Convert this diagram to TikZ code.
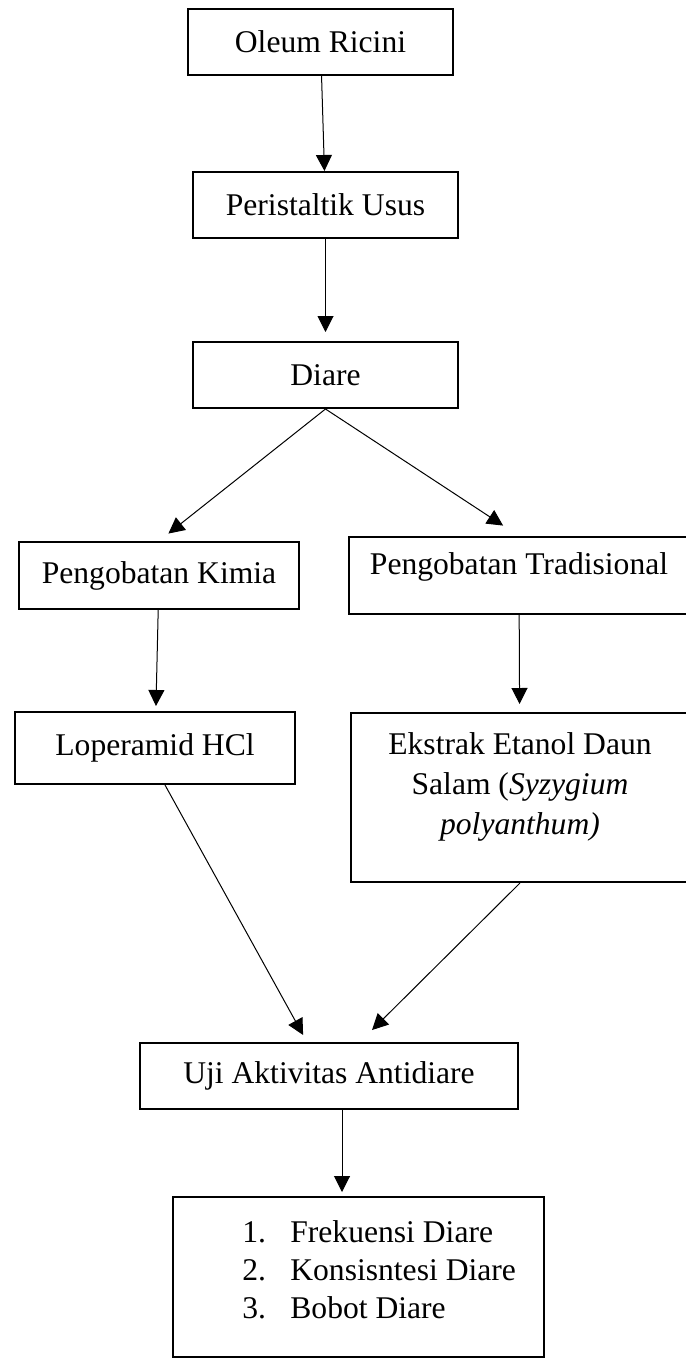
\documentclass[tikz,border=0pt]{standalone}
\usepackage{fontspec}
\setmainfont{Liberation Serif}
\usetikzlibrary{arrows.meta,calc}

\begin{document}
\begin{tikzpicture}[x=0.5pt, y=-0.5pt,
	box/.style={draw, line width=1pt, inner sep=0pt, align=center},
	txt/.style={inner sep=0pt},
	arr/.style={-{Triangle[width=8pt,length=8pt]}, line width=0.5pt},
	font=\fontsize{15.8}{20}\selectfont]
	\useasboundingbox (0,0) rectangle (685,1359);

	\node[box, minimum width=132.5pt, minimum height=33pt] (oleum) at (320.5,42) {Oleum Ricini};
	\node[box, minimum width=132.5pt, minimum height=33pt] (peri) at (325.5,205) {Peristaltik Usus};
	\node[box, minimum width=132.5pt, minimum height=33pt] (diare) at (325.5,375) {Diare};

	\node[box, minimum width=140pt, minimum height=33.5pt] (kimia) at (159,575.5) {Pengobatan Kimia};
	\node[box, minimum width=170pt, minimum height=38.5pt] (trad) at (519,575.5) {};
	\node[txt] (tradtext) at (519,567) {Pengobatan Tradisional};

	\node[box, minimum width=140pt, minimum height=36pt] (lop) at (155,748) {Loperamid HCl};
	\node[box, minimum width=169pt, minimum height=84.5pt] (ek) at (520,797.5) {};
	\node[txt, align=center] (ektext) at (520,787) {Ekstrak Etanol Daun\\Salam (\textit{Syzygium}\\\textit{polyanthum)}};

	\node[box, minimum width=189pt, minimum height=33pt] (uji) at (329,1076) {Uji Aktivitas Antidiare};
	\node[box, minimum width=185.5pt, minimum height=80pt] (hasil) at (358.5,1277) {};
	\node[txt, align=left, anchor=west, font=\fontsize{15.8}{19}\selectfont] (hasiltext) at (242,1270)
		{\makebox[24pt][l]{1.}Frekuensi Diare\\\makebox[24pt][l]{2.}Konsisntesi Diare\\\makebox[24pt][l]{3.}Bobot Diare};

	\draw[arr] (oleum) -- (peri);
	\draw[arr, shorten >=4.5pt] (peri) -- (diare);
	\draw[arr, shorten >=6pt] (diare.south) -- (kimia.north);
	\draw[arr, shorten >=9.5pt] (diare.south) -- (trad.north);
	\draw[arr, shorten >=2.5pt] (kimia) -- (lop);
	\draw[arr, shorten >=4pt] (trad) -- (ek);
	\draw[arr, shorten >=4pt] ($(lop.south)+(10,0)$) -- ($(uji.north)+(-22,0)$);
	\draw[arr, shorten >=8.5pt] (ek.south) -- ($(uji.north)+(31,0)$);
	\draw[arr, shorten >=2pt] ($(uji.south)+(13,0)$) -- ($(hasil.north)+(-16.5,0)$);
\end{tikzpicture}
\end{document}
